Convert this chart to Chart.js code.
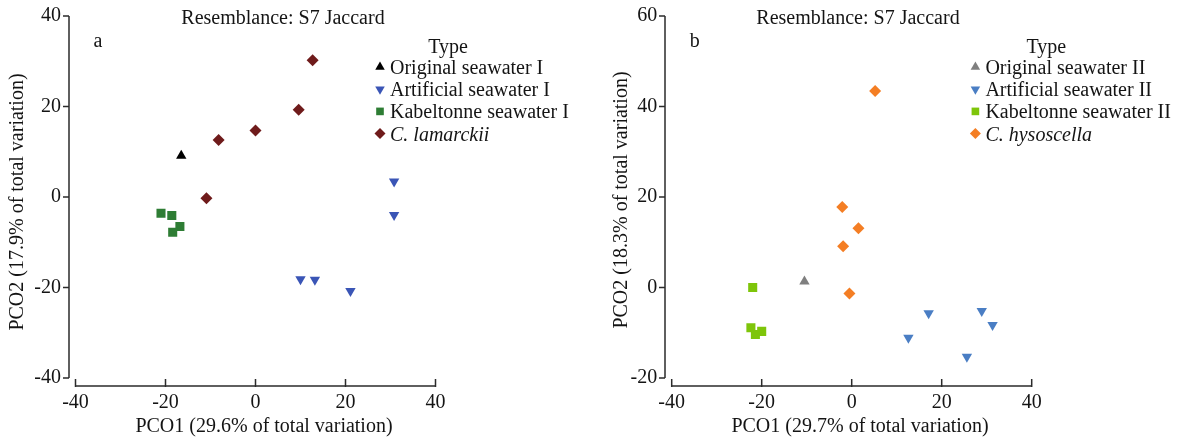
<!DOCTYPE html>
<html>
<head>
<meta charset="utf-8">
<script src="https://cdn.jsdelivr.net/npm/chart.js@4.4.1/dist/chart.umd.min.js"></script>
<style>
  body { margin: 0; background: #fff; }
  #wrap { position: relative; width: 1181px; height: 439px; }
  .panel { position: absolute; top: 0; }
</style>
</head>
<body>
<div id="wrap">
  <canvas id="chartA" class="panel" style="left:0" width="590" height="439"></canvas>
  <canvas id="chartB" class="panel" style="left:590px" width="591" height="439"></canvas>
</div>
<script>
// ---- data: panel a ----
const namesA = ["Original seawater I", "Artificial seawater I", "Kabeltonne seawater I", "C. lamarckii"];
const originalA = [[-16.5, 9.1]];
const artificialA = [[30.8, 3.4], [30.8, -4.0], [10.0, -18.2], [13.2, -18.3], [21.1, -20.8]];
const kabeltonneA = [[-21.0, -3.6], [-18.6, -4.1], [-16.8, -6.5], [-18.4, -7.8]];
const lamarckiiA = [[12.7, 30.2], [9.6, 19.3], [0.0, 14.7], [-8.2, 12.6], [-10.9, -0.3]];
const xTicksA = [-40, -20, 0, 20, 40];
const yTicksA = [-40, -20, 0, 20, 40];

// ---- data: panel b ----
const namesB = ["Original seawater II", "Artificial seawater II", "Kabeltonne seawater II", "C. hysoscella"];
const originalB = [[-10.5, 1.3]];
const artificialB = [[17.1, -5.7], [28.9, -5.2], [31.3, -8.3], [12.6, -11.1], [25.6, -15.3]];
const kabeltonneB = [[-22.0, 0.0], [-22.4, -8.9], [-20.0, -9.7], [-21.4, -10.4]];
const hysoscellaB = [[5.2, 43.4], [-2.1, 17.8], [1.5, 13.1], [-1.9, 9.1], [-0.5, -1.3]];
const xTicksB = [-40, -20, 0, 20, 40];
const yTicksB = [-20, 0, 20, 40, 60];

const titleText = "Resemblance: S7 Jaccard";
const xLabelA = "PCO1 (29.6% of total variation)";
const yLabelA = "PCO2 (17.9% of total variation)";
const xLabelB = "PCO1 (29.7% of total variation)";
const yLabelB = "PCO2 (18.3% of total variation)";

const FONT = '"Liberation Serif", "Times New Roman", serif';
const TEXT = "#141414";
const AXIS = "#2b2b2b";

Chart.defaults.font.family = FONT;
Chart.defaults.font.size = 20;
Chart.defaults.color = TEXT;

const pts = arr => arr.map(([x, y]) => ({ x, y }));

// axis lines, ticks, title, letters and the legend
const decor = {
  id: "decor",
  afterDraw(chart, args, o) {
    const { ctx, chartArea: a, scales: { x, y } } = chart;
    const ax = a.left - o.yGap;
    const ay = a.bottom + o.xGap;
    ctx.save();
    ctx.strokeStyle = AXIS;
    ctx.lineWidth = 1.5;
    ctx.beginPath();
    ctx.moveTo(ax, a.top); ctx.lineTo(ax, a.bottom);
    y.ticks.forEach(t => {
      const py = y.getPixelForValue(t.value);
      ctx.moveTo(ax - 6, py); ctx.lineTo(ax, py);
    });
    ctx.moveTo(a.left, ay); ctx.lineTo(a.right, ay);
    x.ticks.forEach(t => {
      const px = x.getPixelForValue(t.value);
      ctx.moveTo(px, ay - 7); ctx.lineTo(px, ay + 1);
    });
    ctx.stroke();

    ctx.fillStyle = TEXT;
    ctx.font = "20px " + FONT;
    ctx.textBaseline = "alphabetic";
    ctx.textAlign = "center";
    ctx.fillText(titleText, o.titleX, 24);
    ctx.fillText(o.xLabel, o.xLabelX, 432);
    ctx.fillText("Type", o.legendX + o.typeDx, 53);
    ctx.textAlign = "left";
    ctx.fillText(o.letter, a.left + 18, 47);

    ctx.save();
    ctx.translate(o.yLabelX, o.yLabelY);
    ctx.rotate(-Math.PI / 2);
    ctx.textAlign = "center";
    ctx.textBaseline = "middle";
    ctx.fillText(o.yLabel, 0, 0);
    ctx.restore();

    chart.data.datasets.forEach((ds, i) => {
      const base = 74 + i * 22.2;
      ctx.fillStyle = ds.backgroundColor;
      Chart.helpers.drawPoint(ctx, {
        pointStyle: ds.pointStyle, rotation: ds.pointRotation || 0,
        radius: ds.legendRadius, borderWidth: 0
      }, o.legendX, base - 7);
      ctx.fillStyle = TEXT;
      ctx.font = (ds.italic ? "italic " : "") + "20px " + FONT;
      ctx.fillText(ds.label, o.legendX + 10, base);
    });
    ctx.restore();
  }
};

function makeChart(id, width, left, right, yMin, yMax, xTicks, yTicks, datasets, decorOpts) {
  new Chart(document.getElementById(id), {
    type: "scatter",
    data: { datasets },
    options: {
      responsive: false,
      animation: false,
      layout: { padding: { top: 16, right: width - right, left: 0, bottom: 0 } },
      plugins: { legend: { display: false }, tooltip: { enabled: false }, decor: decorOpts },
      scales: {
        x: {
          type: "linear", min: xTicks[0], max: xTicks[xTicks.length - 1],
          afterFit: s => { s.height = 439 - 378; s.paddingLeft = 0; s.paddingRight = 0; },
          afterBuildTicks: s => { s.ticks = xTicks.map(v => ({ value: v })); },
          grid: { display: false, drawTicks: false, tickLength: 0 },
          border: { display: false },
          ticks: { padding: 13, color: TEXT }
        },
        y: {
          type: "linear", min: yMin, max: yMax,
          afterFit: s => { s.width = left; s.paddingTop = 0; s.paddingBottom = 0; },
          afterBuildTicks: s => { s.ticks = yTicks.map(v => ({ value: v })); },
          grid: { display: false, drawTicks: false, tickLength: 0 },
          border: { display: false },
          ticks: { padding: 14.5, color: TEXT }
        }
      }
    },
    plugins: [decor]
  });
}

function series(name, data, style, color, extra) {
  return Object.assign({
    label: name, data: pts(data), pointStyle: style, pointRadius: 6,
    backgroundColor: color, borderColor: color, borderWidth: 0,
    pointHoverRadius: 6, legendRadius: 5.5
  }, extra || {});
}

makeChart("chartA", 590, 75.5, 435.5, -40, 40, xTicksA, yTicksA, [
  series(namesA[0], originalA, "triangle", "#000000"),
  series(namesA[1], artificialA, "triangle", "#3a55b6", { pointRotation: 180 }),
  series(namesA[2], kabeltonneA, "rect", "#2e7d34", { pointRadius: 6.4, legendRadius: 5.4 }),
  series(namesA[3], lamarckiiA, "rectRot", "#6f1b1b", { italic: true })
], {
  yGap: 6.5, xGap: 8, titleX: 283, xLabelX: 264, yLabel: yLabelA, xLabel: xLabelA,
  yLabelX: 18, yLabelY: 202, letter: "a", legendX: 380, typeDx: 68
});

makeChart("chartB", 591, 81.7, 441.7, -20, 60, xTicksB, yTicksB, [
  series(namesB[0], originalB, "triangle", "#7f7f7f"),
  series(namesB[1], artificialB, "triangle", "#4a7ec4", { pointRotation: 180 }),
  series(namesB[2], kabeltonneB, "rect", "#7ec50a", { pointRadius: 6.4, legendRadius: 5.4 }),
  series(namesB[3], hysoscellaB, "rectRot", "#f47e24", { italic: true })
], {
  yGap: 6.7, xGap: 8, titleX: 268, xLabelX: 270, yLabel: yLabelB, xLabel: xLabelB,
  yLabelX: 32, yLabelY: 200, letter: "b", legendX: 385.4, typeDx: 71
});
</script>
</body>
</html>
